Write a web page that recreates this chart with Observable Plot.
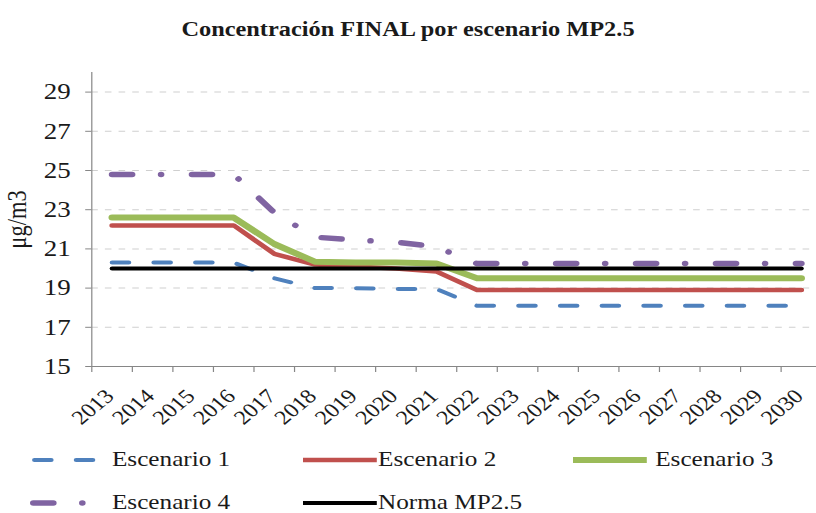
<!DOCTYPE html>
<html>
<head>
<meta charset="utf-8">
<script src="https://cdn.jsdelivr.net/npm/d3@7"></script>
<script src="https://cdn.jsdelivr.net/npm/@observablehq/plot@0.6"></script>
<style>
html, body { margin: 0; padding: 0; background: #fff; overflow: hidden; }
#wrap { width: 680px; transform: scaleX(1.2); transform-origin: 0 0;
  font-family: "Liberation Serif", serif; color: #1a1a1a; }
#title { height: 58px; line-height: 58px; text-align: center; font-weight: bold; font-size: 20.3px; }
#chart svg { display: block; }
#legend { position: relative; height: 86px; font-size: 21px; }
.lab { position: absolute; height: 43px; line-height: 43px; white-space: nowrap; }
.sam { position: absolute; left: 0; }
</style>
</head>
<body>
<div id="wrap">
  <div id="title"></div>
  <div id="chart"></div>
  <div id="legend"></div>
</div>
<script>
const titleText = "Concentración FINAL por escenario MP2.5";
const yLabel = "μg/m3";
const years = [2013, 2014, 2015, 2016, 2017, 2018, 2019, 2020, 2021, 2022, 2023, 2024, 2025, 2026, 2027, 2028, 2029, 2030];
const yTicks = [15, 17, 19, 21, 23, 25, 27, 29];
const gridTicks = [17, 19, 21, 23, 25, 27, 29];
const seriesNames = ["Escenario 1", "Escenario 2", "Escenario 3", "Escenario 4", "Norma MP2.5"];
const escenario1 = [20.3, 20.3, 20.3, 20.3, 19.5, 19.0, 19.0, 18.95, 18.95, 18.1, 18.1, 18.1, 18.1, 18.1, 18.1, 18.1, 18.1, 18.1];
const escenario2 = [22.2, 22.2, 22.2, 22.2, 20.75, 20.2, 20.1, 20.0, 19.85, 18.9, 18.9, 18.9, 18.9, 18.9, 18.9, 18.9, 18.9, 18.9];
const escenario3 = [22.6, 22.6, 22.6, 22.6, 21.25, 20.35, 20.3, 20.3, 20.25, 19.5, 19.5, 19.5, 19.5, 19.5, 19.5, 19.5, 19.5, 19.5];
const escenario4 = [24.8, 24.8, 24.8, 24.8, 22.85, 21.6, 21.45, 21.35, 21.1, 20.25, 20.25, 20.25, 20.25, 20.25, 20.25, 20.25, 20.25, 20.25];
const norma = [20, 20, 20, 20, 20, 20, 20, 20, 20, 20, 20, 20, 20, 20, 20, 20, 20, 20];

const seriesValues = [escenario1, escenario2, escenario3, escenario4, norma];
const styles = [
  {stroke: "#4F81BD", strokeWidth: 4, strokeDasharray: "14,20.75", strokeLinecap: "round"},
  {stroke: "#C0504D", strokeWidth: 4.5, strokeLinecap: "round"},
  {stroke: "#9BBB59", strokeWidth: 6, strokeLinecap: "round"},
  {stroke: "#8064A2", strokeWidth: 5.5, strokeDasharray: "16.7,24.15,0.01,25.75", strokeLinecap: "round"},
  {stroke: "#000000", strokeWidth: 4, strokeLinecap: "round"}
];

document.getElementById("title").textContent = titleText;

const FONT = "'Liberation Serif', serif";
const boundaries = years.map(y => y - 0.5);
const axisColor = "#868686";
const textColor = "#1a1a1a";

const lineMarks = seriesValues.map((vals, k) => {
  const rows = years.map((yr, i) => ({year: yr, value: vals[i], serie: seriesNames[k]}));
  return Plot.line(rows, {x: "year", y: "value", strokeLinejoin: "round", ...styles[k]});
});

const chart = Plot.plot({
  width: 680,
  height: 380,
  marginLeft: 76,
  marginRight: 0,
  marginTop: 14,
  marginBottom: 72,
  style: {fontFamily: FONT, background: "#fff", overflow: "visible"},
  x: {domain: [2012.5, 2030.375]},
  y: {domain: [15, 30]},
  marks: [
    Plot.ruleY(gridTicks, {stroke: "#cfcfcf", strokeWidth: 1, strokeDasharray: "5.5,5.9"}),
    Plot.axisY({ticks: yTicks, tickSize: 5, tickPadding: 12.5, fontSize: 22.5,
      stroke: axisColor, fill: textColor, label: yLabel, labelAnchor: "center", labelArrow: "none", labelOffset: 71}),
    Plot.axisX({ticks: boundaries, tickSize: 6, tickFormat: () => "", stroke: axisColor, label: null}),
    Plot.text(years, {x: d => d, text: d => String(d), frameAnchor: "bottom", rotate: -45,
      textAnchor: "end", lineAnchor: "middle", dy: 26.3, dx: -2, fontSize: 20, fill: textColor}),
    Plot.ruleY([15], {stroke: axisColor, strokeWidth: 1}),
    Plot.ruleX([2012.5], {stroke: axisColor, strokeWidth: 1}),
    ...lineMarks
  ]
});
document.getElementById("chart").appendChild(chart);

// Legend (HTML below the SVG)
const legendPos = [
  {row: 0, x1: 28.7, x2: 77.45, text: 93.3},
  {row: 0, x1: 252.5, x2: 314, text: 315, cap: "butt"},
  {row: 0, x1: 477.5, x2: 539, text: 546, cap: "butt"},
  {row: 1, x1: 27.75, x2: 73, text: 93.3},
  {row: 1, x1: 252.5, x2: 314, text: 315, cap: "butt"}
];
const legend = document.getElementById("legend");
const NS = "http://www.w3.org/2000/svg";
seriesNames.forEach((name, k) => {
  const p = legendPos[k], s = styles[k];
  const svg = document.createElementNS(NS, "svg");
  svg.setAttribute("class", "sam");
  svg.setAttribute("width", 680);
  svg.setAttribute("height", 43);
  svg.style.top = (p.row * 43) + "px";
  const ln = document.createElementNS(NS, "line");
  ln.setAttribute("x1", p.x1); ln.setAttribute("x2", p.x2);
  ln.setAttribute("y1", 22); ln.setAttribute("y2", 22);
  ln.setAttribute("stroke", s.stroke);
  ln.setAttribute("stroke-width", s.strokeWidth);
  ln.setAttribute("stroke-linecap", p.cap || s.strokeLinecap);
  if (s.strokeDasharray) ln.setAttribute("stroke-dasharray", s.strokeDasharray);
  svg.appendChild(ln);
  legend.appendChild(svg);
  const lab = document.createElement("div");
  lab.className = "lab";
  lab.style.left = p.text + "px";
  lab.style.top = (p.row * 43) + "px";
  lab.textContent = name;
  legend.appendChild(lab);
});
</script>
</body>
</html>
